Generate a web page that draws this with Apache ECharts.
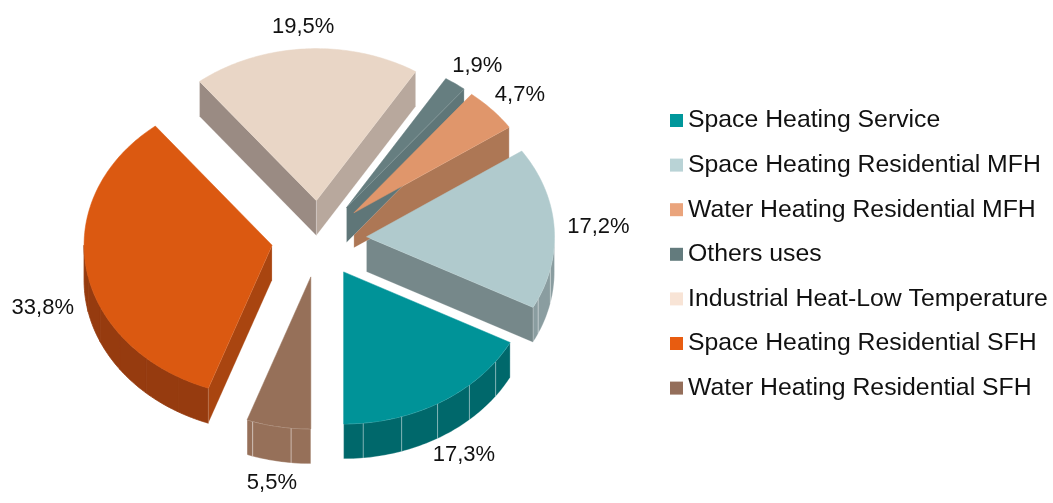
<!DOCTYPE html>
<html><head><meta charset="utf-8">
<script src="https://cdn.jsdelivr.net/npm/echarts@6/dist/echarts.min.js"></script>
<style>html,body{margin:0;padding:0;background:#fff}#c{width:1053px;height:503px}</style>
</head><body><div id="c"></div>
<script>
const categories = ['Space Heating Service','Space Heating Residential MFH','Water Heating Residential MFH','Others uses','Industrial Heat-Low Temperature','Space Heating Residential SFH','Water Heating Residential SFH'];
const shares = [17.3, 17.2, 4.7, 1.9, 19.5, 33.8, 5.5];
const labels = ['17,3%','17,2%','4,7%','1,9%','19,5%','33,8%','5,5%'];
const topColors = ['#009398','#b0cacd','#e0966b','#667e80','#e9d6c6','#db5911','#967059'];
const wallColors = ['#00686b','#8a9da0','#ad7755','#5f7678','#b8a89d','#963b0f','#967059'];
const wallEdgeColors = ['rgba(255,255,255,0.35)','rgba(255,255,255,0.35)','rgba(255,255,255,0.35)','rgba(255,255,255,0.35)','rgba(255,255,255,0.35)','#963b0f','rgba(255,255,255,0.4)'];
const startFaceColors = ['#00686b','#76888a','#ad7755','#5f7678','#b8a89d','#a94510','#967059'];
const endFaceColors = ['#00686b','#76888a','#ad7755','#5f7678','#9a8b83','#a94510','#967059'];
const legendColors = ['#00979b','#b9d3d6','#eaa47c','#637b7d','#f8e4d6','#e85c10','#946e5a'];

const START = 270, EXPLODE = 0.253, DEPTH = 0.23, LABEL_R = 1.07, FACET = 12;
const LABEL_FONT = '22px "Liberation Sans", Arial, sans-serif';
const total = shares.reduce((a, b) => a + b, 0);
const spans = [];
let acc = START;
shares.forEach(v => { const s = acc, e = acc + v / total * 360; spans.push([s, e]); acc = e; });
const rad = d => d * Math.PI / 180;
const measureCtx = document.createElement('canvas').getContext('2d');
measureCtx.font = LABEL_FONT;

function renderItem(params, api) {
  const i = params.seriesIndex;
  const a0 = spans[i][0], a1 = spans[i][1];
  const m = (a0 + a1) / 2;
  const cm = Math.cos(rad(m)), sm = Math.sin(rad(m));
  const ox = EXPLODE * cm, oy = EXPLODE * sm;
  const P = (x, y) => api.coord([x, y]);
  const arc = (s, e, dy) => {
    const pts = [];
    const n = Math.max(1, Math.ceil(Math.abs(e - s)));
    for (let k = 0; k <= n; k++) {
      const t = rad(s + (e - s) * k / n);
      pts.push(P(ox + Math.cos(t), oy + Math.sin(t) + dy));
    }
    return pts;
  };
  const edge = 'rgba(255,255,255,0.35)';
  const children = [];
  const cuts = [a0];
  for (let b = Math.ceil(a0 / FACET) * FACET; b < a1; b += FACET) if (b > a0 + 0.01) cuts.push(b);
  cuts.push(a1);
  for (let k = 0; k < cuts.length - 1; k++) {
    const s = cuts[k], e = cuts[k + 1];
    if (Math.sin(rad((s + e) / 2)) < 0) {
      const pts = arc(s, e, 0).concat(arc(s, e, -DEPTH).reverse());
      children.push({ type: 'polygon', shape: { points: pts }, style: { fill: wallColors[i], stroke: wallEdgeColors[i], lineWidth: 0.8 }, z2: 1 });
    }
  }
  const face = (a, color) => {
    const c = Math.cos(rad(a)), s = Math.sin(rad(a));
    const pts = [P(ox, oy), P(ox + c, oy + s), P(ox + c, oy + s - DEPTH), P(ox, oy - DEPTH)];
    children.push({ type: 'polygon', shape: { points: pts }, style: { fill: color, stroke: edge, lineWidth: 0.6 }, z2: 2 });
  };
  if (Math.cos(rad(a0)) > 0.01) face(a0, startFaceColors[i]);
  if (Math.cos(rad(a1)) < -0.01) face(a1, endFaceColors[i]);
  const top = [P(ox, oy)].concat(arc(a0, a1, 0));
  children.push({ type: 'polygon', shape: { points: top }, style: { fill: topColors[i], stroke: topColors[i], lineWidth: 0.5 }, z2: 10 });
  const anchor = P(ox + LABEL_R * cm, oy + LABEL_R * sm - (sm < 0 ? DEPTH : 0));
  const w = measureCtx.measureText(labels[i]).width, h = 22;
  children.push({ type: 'text', x: anchor[0] + cm * w / 2, y: anchor[1] - sm * h / 2,
    style: { text: labels[i], fill: '#111', font: LABEL_FONT, align: 'center', verticalAlign: 'middle' }, z2: 20 });
  return { type: 'group', children };
}

const chart = echarts.init(document.getElementById('c'), null, { renderer: 'canvas' });
chart.setOption({
  backgroundColor: '#fff',
  animation: false,
  grid: { left: 18.2, top: 11, width: 601.6, height: 471.2 },
  xAxis: { type: 'value', min: -1.6, max: 1.6, show: false },
  yAxis: { type: 'value', min: -1.6, max: 1.5, show: false },
  legend: {
    orient: 'vertical', left: 665, top: 103, itemWidth: 13, itemHeight: 13, itemGap: 19.6,
    selectedMode: false,
    textStyle: { fontSize: 24.8, fontFamily: '"Liberation Sans", Arial, sans-serif', color: '#111' },
    data: categories.map((n, i) => ({ name: n, icon: 'rect', itemStyle: { color: legendColors[i] } }))
  },
  series: categories.map((n, i) => ({
    type: 'custom', name: n, coordinateSystem: 'cartesian2d', clip: false, silent: true,
    data: [[0, 0, shares[i]]], encode: { x: 0, y: 1 },
    itemStyle: { color: topColors[i] },
    renderItem
  }))
});
</script></body></html>
